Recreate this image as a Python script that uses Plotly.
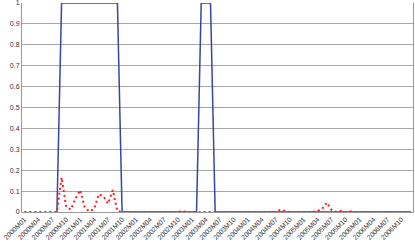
import plotly.graph_objects as go

years = ["2000", "2001", "2002", "2003", "2004", "2005", "2006"]
months = ["01", "02", "03", "04", "05", "06", "07", "08", "09", "10", "11", "12"]
categories = [f"{y}M{m}" for y in years for m in months]
tick_labels = [f"{y}M{m}" for y in years for m in ["01", "04", "07", "10"]]

regime = [
    None, None, None, None, None, None, None, 0, 1, 1, 1, 1,   # 2000
    1, 1, 1, 1, 1, 1, 1, 1, 1, 0, 0, 0,                        # 2001
    0, 0, 0, 0, 0, 0, 0, 0, 0, 0, 0, 0,                        # 2002
    0, 0, 1, 1, 1, 0, 0, 0, 0, 0, 0, 0,                        # 2003
    0, 0, 0, 0, 0, 0, 0, 0, 0, 0, 0, 0,                        # 2004
    0, 0, 0, 0, 0, 0, 0, 0, 0, 0, 0, 0,                        # 2005
    0, 0, 0, 0, 0, 0, 0, 0, 0, 0, 0, 0,                        # 2006
]

probability = [
    0, 0, 0, 0.003, 0, 0.003, 0, 0, 0.165, 0.025, 0.012, 0.065,          # 2000
    0.105, 0.02, 0.003, 0.015, 0.085, 0.075, 0.04, 0.105, 0.004, 0, 0, 0,  # 2001
    0, 0, 0, 0, 0, 0, 0, 0, 0, 0, 0.004, 0,                              # 2002
    0, 0, 0, 0, 0, 0, 0, 0, 0, 0, 0, 0,                                  # 2003
    0, 0, 0, 0, 0, 0, 0, 0.01, 0.004, 0, 0, 0,                           # 2004
    0, 0, 0, 0.005, 0.015, 0.045, 0.01, 0, 0.005, 0, 0.003, 0,           # 2005
    0, 0, 0, 0, 0, 0, 0, 0.003, 0, 0, 0, 0,                              # 2006
]

y_ticks = [0, 0.1, 0.2, 0.3, 0.4, 0.5, 0.6, 0.7, 0.8, 0.9, 1]
y_labels = ["0", "0.1", "0.2", "0.3", "0.4", "0.5", "0.6", "0.7", "0.8", "0.9", "1"]

fig = go.Figure()
fig.add_trace(go.Scatter(
    x=categories, y=regime, mode="lines",
    line=dict(color="#3347a8", width=1.5),
    connectgaps=False, showlegend=False, hoverinfo="skip",
))
fig.add_trace(go.Scatter(
    x=categories, y=probability, mode="lines",
    line=dict(color="#ff1a1a", width=2, dash="2px,3px"),
    showlegend=False, hoverinfo="skip",
))

fig.update_layout(
    width=415, height=242,
    margin=dict(l=22, r=2, t=3, b=30),
    paper_bgcolor="white", plot_bgcolor="white",
    font=dict(family="Liberation Sans, Arial, sans-serif", size=7, color="#333333"),
    xaxis=dict(
        type="category", categoryorder="array", categoryarray=categories,
        range=[-0.5, len(categories) - 0.5],
        tickmode="array", tickvals=tick_labels, ticktext=tick_labels,
        tickangle=-45, showgrid=False, showline=True, linecolor="#999999",
        linewidth=1, mirror=False, ticks="", ticklabelstandoff=0,
        tickfont=dict(size=6.8, color="#333333"),
        zeroline=False, automargin=False,
    ),
    yaxis=dict(
        range=[0, 1], tickmode="array", tickvals=y_ticks, ticktext=y_labels,
        showgrid=True, gridcolor="#a6a6a6", gridwidth=1,
        showline=True, linecolor="#999999", linewidth=1, mirror=True,
        ticks="", tickfont=dict(size=7, color="#333333"), zeroline=False,
        automargin=False, ticklabeloverflow="allow",
    ),
)

fig.write_html("out.html")
